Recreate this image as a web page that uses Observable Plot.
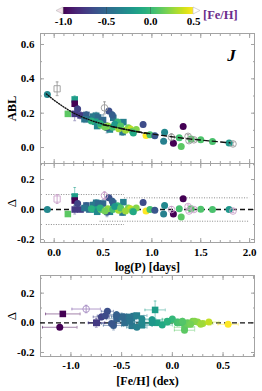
<!DOCTYPE html>
<html><head><meta charset="utf-8">
<script src="https://cdn.jsdelivr.net/npm/d3@7"></script>
<script src="https://cdn.jsdelivr.net/npm/@observablehq/plot@0.6"></script>
<style>
body{margin:0;background:#fff;}
#chart{position:relative;width:262px;height:391px;overflow:hidden;font-family:"Liberation Serif","Times New Roman",serif;}
#chart > svg{position:absolute;left:0;}
#fehlab{position:absolute;left:203px;top:8px;color:#6b2d8c;font-weight:bold;font-size:12.5px;}
</style></head><body><div id="chart"><div id="fehlab">[Fe/H]</div></div>
<script>
// ---- data ----
const logP    = [-0.07,0.03,0.14,0.21,0.21,0.21,0.24,0.27,0.33,0.36,0.40,0.43,0.45,0.42,0.38,0.44,0.48,0.50,0.515,0.56,0.595,0.54,0.605,0.55,0.60,0.65,0.66,0.708,0.70,0.76,0.78,0.80,0.84,0.81,0.91,0.94,0.98,1.03,1.13,1.12,1.20,1.22,1.32,1.30,1.28,1.37,1.38,1.40,1.43,1.50,1.62,1.79,1.83,0.31,0.47,0.52,0.62,0.68,0.73,0.57];
const abl     = [0.309,0.342,0.196,0.280,0.255,0.196,0.225,0.187,0.190,0.165,0.180,0.185,0.175,0.150,0.155,0.125,0.130,0.160,0.231,0.212,0.190,0.115,0.173,0.125,0.118,0.148,0.110,0.148,0.090,0.115,0.108,0.095,0.105,0.085,0.134,0.070,0.075,0.068,0.089,0.037,0.060,0.025,0.122,0.006,0.057,0.065,0.040,0.050,0.045,0.045,0.035,0.027,0.021,0.165,0.140,0.120,0.135,0.125,0.100,0.105];
const ablErr  = [0.006,0.040,0.008,0.020,0.015,0.040,0.020,0.020,0.020,0.015,0.020,0.020,0.020,0.010,0.010,0.010,0.010,0.030,0.035,0.015,0.020,0.030,0.015,0.010,0.010,0.010,0.010,0.015,0.020,0.010,0.010,0.010,0.010,0.010,0.015,0.010,0.010,0.010,0.015,0.010,0.020,0.010,0.010,0.010,0.010,0.010,0.010,0.010,0.010,0.010,0.010,0.010,0.010,0.020,0.010,0.010,0.020,0.010,0.010,0.010];
const delta   = [0.000,0.070,-0.030,0.087,0.060,0.000,0.040,0.000,0.027,0.000,0.030,0.045,0.040,0.000,0.005,-0.015,0.000,0.040,0.093,0.078,0.055,-0.018,0.040,0.005,0.000,0.025,-0.005,0.049,-0.020,0.010,0.005,-0.010,0.010,-0.015,0.047,-0.010,0.000,-0.005,0.026,-0.030,0.000,-0.030,0.072,-0.050,0.005,0.020,-0.010,0.005,0.000,0.002,0.000,0.000,-0.010,0.010,0.010,-0.010,0.020,0.010,-0.010,-0.015];
const deltaErr= [0.006,0.030,0.015,0.060,0.015,0.030,0.020,0.015,0.020,0.015,0.020,0.020,0.020,0.010,0.010,0.010,0.010,0.025,0.025,0.015,0.020,0.030,0.015,0.010,0.010,0.010,0.010,0.015,0.020,0.010,0.010,0.010,0.010,0.010,0.015,0.010,0.010,0.010,0.015,0.010,0.020,0.010,0.010,0.010,0.010,0.010,0.010,0.010,0.010,0.010,0.010,0.010,0.010,0.020,0.010,0.010,0.020,0.010,0.010,0.010];
const feh     = [-0.30,null,0.12,-0.17,-1.08,-0.75,-0.70,-0.745,-0.55,-0.47,-0.40,-0.38,-0.48,-0.15,-0.05,-0.30,0.15,-0.50,-0.85,-0.64,-0.55,-0.58,-0.42,0.25,0.05,0.00,0.30,-0.35,-0.40,0.20,0.36,0.15,0.22,-0.10,-0.66,0.55,0.05,-0.60,-0.30,-0.35,null,-1.11,-1.00,0.12,0.05,null,null,0.10,null,0.08,0.07,-0.20,null,-0.42,-0.05,0.18,-0.20,0.10,0.28,-0.30];
const fehErr  = [0.10,null,0.10,0.10,0.17,0.08,0.08,0.08,0.10,0.10,0.10,0.10,0.10,0.10,0.10,0.10,0.10,0.10,0.14,0.06,0.10,0.10,0.10,0.10,0.10,0.10,0.10,0.10,0.10,0.10,0.10,0.10,0.10,0.10,0.08,0.10,0.10,0.10,0.10,0.10,null,0.17,null,0.10,0.10,null,null,0.10,null,0.10,0.10,0.10,null,0.10,0.10,0.10,0.10,0.10,0.10,0.10];
const shape   = ["c","s","s","s","s","s","c","s","s","s","s","s","s","s","c","s","c","s","c","c","c","c","s","c","c","c","c","s","s","c","c","c","c","c","c","c","c","c","c","c","c","c","c","c","c","c","c","c","c","c","c","c","c","s","c","c","c","c","c","s"];
const hollow  = [0,1,0,0,0,0,0,0,0,0,0,0,0,0,0,0,0,0,1,0,0,0,0,0,0,0,0,0,0,0,0,0,0,0,0,0,0,0,0,0,1,0,0,0,0,1,1,0,1,0,0,0,1,0,0,0,0,0,0,0];

// relation curves
const dotCurveP  = [-0.08,0.0,0.1,0.2,0.3,0.4,0.5,0.6,0.7,0.8,0.9,0.96];
const dotCurveA  = [0.312,0.275,0.235,0.200,0.174,0.153,0.136,0.122,0.109,0.097,0.086,0.080];
const dashCurveP = [0.5,0.6,0.8,1.0,1.2,1.4,1.6,1.8];
const dashCurveA = [0.132,0.120,0.098,0.079,0.063,0.049,0.038,0.027];

// scatter limits (middle panel)
const limX1 = [-0.08,0.72,-0.08,0.47];
const limX2 = [0.72,2.0,0.72,2.0];
const limY  = [0.10,0.078,-0.10,-0.078];

// ticks
const pTicks = [0,0.5,1,1.5,2];
const fehTicks = [-1,-0.5,0,0.5];
const ablTicks = [0,0.2,0.4,0.6];
const dTicks = [-0.2,0,0.2];
const cbTicks = [-1,-0.5,0,0.5];

// ---- build ----
const rows = logP.map((p,i)=>({logP:p, abl:abl[i], eAbl:ablErr[i], delta:delta[i], eDelta:deltaErr[i],
  feh:feh[i], eFeh:fehErr[i], sym:shape[i], open:hollow[i]===1}));
const curveDot = dotCurveP.map((p,i)=>({p, a:dotCurveA[i]}));
const curveDash = dashCurveP.map((p,i)=>({p, a:dashCurveA[i]}));
const limits = limY.map((y,i)=>({y, x1:limX1[i], x2:limX2[i]}));

const font = '"Liberation Serif","Times New Roman",serif';
const frameGray = "#a3a3a3";
const fmt = d => d.toFixed(1);
const colorScale = {type:"linear", scheme:"viridis", domain:[-1,0.5], clamp:true};
const hcap = {draw(ctx, size){const w=Math.sqrt(size/Math.PI); ctx.moveTo(-w,0); ctx.lineTo(w,0);}};
const vcap = {draw(ctx, size){const w=Math.sqrt(size/Math.PI); ctx.moveTo(0,-w); ctx.lineTo(0,w);}};
const range = (a,b,s)=>d3.range(Math.round((b-a)/s)+1).map(i=>+(a+i*s).toFixed(4));

function boxMarks(xMaj, xMin, yMaj, yMin){
  const none = () => "";
  return [
    Plot.frame({stroke: frameGray}),
    Plot.axisX({anchor:"bottom", ticks:xMaj, tickSize:4, dy:-4, tickFormat:none, stroke:frameGray, label:null}),
    Plot.axisX({anchor:"top", ticks:xMaj, tickSize:4, dy:4, tickFormat:none, stroke:frameGray, label:null}),
    Plot.axisX({anchor:"bottom", ticks:xMin, tickSize:2, dy:-2, tickFormat:none, stroke:frameGray, label:null}),
    Plot.axisX({anchor:"top", ticks:xMin, tickSize:2, dy:2, tickFormat:none, stroke:frameGray, label:null}),
    Plot.axisY({anchor:"left", ticks:yMaj, tickSize:4, dx:4, tickFormat:none, stroke:frameGray, label:null}),
    Plot.axisY({anchor:"right", ticks:yMaj, tickSize:4, dx:-4, tickFormat:none, stroke:frameGray, label:null}),
    Plot.axisY({anchor:"left", ticks:yMin, tickSize:2, dx:2, tickFormat:none, stroke:frameGray, label:null}),
    Plot.axisY({anchor:"right", ticks:yMin, tickSize:2, dx:-2, tickFormat:none, stroke:frameGray, label:null}),
    Plot.axisY({anchor:"left", ticks:yMaj, tickSize:0, tickPadding:6, tickFormat:fmt, label:null})
  ];
}

function pointMarks(data, xk, yk, eyk, exk, openStroke){
  const fil = data.filter(d=>!d.open), hol = data.filter(d=>d.open);
  const m = [];
  const y1 = d=>d[yk]-d[eyk], y2 = d=>d[yk]+d[eyk];
  if (exk) {
    const x1 = d=>d[xk]-d[exk], x2 = d=>d[xk]+d[exk];
    m.push(Plot.ruleY(fil, {y:yk, x1, x2, stroke:"feh", strokeOpacity:0.55, strokeWidth:0.9}));
    m.push(Plot.dot(fil, {x:x1, y:yk, symbol:vcap, r:1.4, stroke:"feh", strokeOpacity:0.55, strokeWidth:0.9}));
    m.push(Plot.dot(fil, {x:x2, y:yk, symbol:vcap, r:1.4, stroke:"feh", strokeOpacity:0.55, strokeWidth:0.9}));
    m.push(Plot.ruleY(hol, {y:yk, x1, x2, stroke:openStroke, strokeWidth:0.9}));
    m.push(Plot.dot(hol, {x:x1, y:yk, symbol:vcap, r:1.4, stroke:openStroke, strokeWidth:0.9}));
    m.push(Plot.dot(hol, {x:x2, y:yk, symbol:vcap, r:1.4, stroke:openStroke, strokeWidth:0.9}));
  }
  m.push(Plot.ruleX(fil, {x:xk, y1, y2, stroke:"feh", strokeOpacity:0.55, strokeWidth:0.9}));
  m.push(Plot.dot(fil, {x:xk, y:y1, symbol:hcap, r:1.4, stroke:"feh", strokeOpacity:0.55, strokeWidth:0.9}));
  m.push(Plot.dot(fil, {x:xk, y:y2, symbol:hcap, r:1.4, stroke:"feh", strokeOpacity:0.55, strokeWidth:0.9}));
  m.push(Plot.ruleX(hol, {x:xk, y1, y2, stroke:openStroke, strokeWidth:0.9}));
  m.push(Plot.dot(hol, {x:xk, y:y1, symbol:hcap, r:1.4, stroke:openStroke, strokeWidth:0.9}));
  m.push(Plot.dot(hol, {x:xk, y:y2, symbol:hcap, r:1.4, stroke:openStroke, strokeWidth:0.9}));
  m.push(Plot.dot(fil.filter(d=>d.sym==="s"), {x:xk, y:yk, symbol:"square", r:3.7, fill:"feh"}));
  m.push(Plot.dot(fil.filter(d=>d.sym==="c"), {x:xk, y:yk, symbol:"circle", r:3.5, fill:"feh"}));
  m.push(Plot.dot(hol.filter(d=>d.sym==="s"), {x:xk, y:yk, symbol:"square", r:3.5, fill:"none", stroke:openStroke, strokeWidth:0.9}));
  m.push(Plot.dot(hol.filter(d=>d.sym==="c"), {x:xk, y:yk, symbol:"circle", r:3.3, fill:"none", stroke:openStroke, strokeWidth:0.9}));
  return m;
}

const baseStyle = {fontFamily:font, fontSize:"11px", fontWeight:"bold", background:"transparent", overflow:"visible"};
const pDomain = [-0.14, 2.05];

// top panel
const p1 = Plot.plot({
  width:262, height:164, marginLeft:40, marginRight:8, marginTop:33, marginBottom:1,
  style: baseStyle,
  x:{domain:pDomain}, y:{domain:[-0.093,0.664]}, color:colorScale,
  marks:[
    ...boxMarks(pTicks, range(-0.1,2.0,0.1), ablTicks, range(-0.1,0.6,0.1)),
    ...pointMarks(rows, "logP", "abl", "eAbl", null, "#9a9a9a"),
    Plot.line(curveDot, {x:"p", y:"a", stroke:"#111", strokeWidth:1.4, strokeDasharray:"1,1.6"}),
    Plot.line(curveDash, {x:"p", y:"a", stroke:"#111", strokeWidth:1.4, strokeDasharray:"5,3.5"}),
    Plot.text(["J"], {text:d=>d, frameAnchor:"top-right", dx:-23, dy:22, fontSize:17, fontWeight:"bold", fontStyle:"italic", textAnchor:"middle", lineAnchor:"middle"}),
    Plot.text(["ABL"], {text:d=>d, frameAnchor:"left", dx:-29, dy:10, rotate:-90, fontSize:12.5, textAnchor:"middle", lineAnchor:"middle"})
  ]
});
p1.style.top = "0px";

// middle panel
const p2 = Plot.plot({
  width:262, height:112, marginLeft:40, marginRight:8, marginTop:1, marginBottom:32,
  style: baseStyle,
  x:{domain:pDomain}, y:{domain:[-0.22,0.307]}, color:colorScale,
  marks:[
    ...boxMarks(pTicks, range(-0.1,2.0,0.1), dTicks, range(-0.2,0.3,0.1)),
    Plot.ruleY(limits, {y:"y", x1:"x1", x2:"x2", stroke:"#8a8a8a", strokeWidth:1, strokeDasharray:"1,1.5"}),
    Plot.ruleY([0], {stroke:"#111", strokeWidth:1.3, strokeDasharray:"5,3"}),
    ...pointMarks(rows, "logP", "delta", "eDelta", null, "#c9a0c9"),
    Plot.axisX({anchor:"bottom", ticks:pTicks, tickSize:0, tickPadding:6, tickFormat:fmt, label:null}),
    Plot.text(["log(P) [days]"], {text:d=>d, frameAnchor:"bottom", dy:25, fontSize:12, lineAnchor:"middle"}),
    Plot.text(["Δ"], {text:d=>d, frameAnchor:"left", dx:-29, rotate:-90, fontSize:13, fontWeight:"normal", textAnchor:"middle", lineAnchor:"middle"})
  ]
});
p2.style.top = "162px";

// bottom panel
const p3 = Plot.plot({
  width:262, height:119, marginLeft:40, marginRight:8, marginTop:3, marginBottom:35,
  style: baseStyle,
  x:{domain:[-1.30,0.81]}, y:{domain:[-0.227,0.319]}, color:colorScale,
  marks:[
    ...boxMarks(fehTicks, range(-1.3,0.8,0.1), dTicks, range(-0.2,0.3,0.1)),
    Plot.ruleY([0], {stroke:"#111", strokeWidth:1.3, strokeDasharray:"5,3"}),
    ...pointMarks(rows.filter(d=>d.feh!=null && d.eFeh!=null), "feh", "delta", "eDelta", "eFeh", "#a88fc4"),
    Plot.axisX({anchor:"bottom", ticks:fehTicks, tickSize:0, tickPadding:5, tickFormat:fmt, label:null}),
    Plot.text(["[Fe/H] (dex)"], {text:d=>d, frameAnchor:"bottom", dy:25, fontSize:12, lineAnchor:"middle"}),
    Plot.text(["Δ"], {text:d=>d, frameAnchor:"left", dx:-29, rotate:-90, fontSize:13, fontWeight:"normal", textAnchor:"middle", lineAnchor:"middle"})
  ]
});
p3.style.top = "272px";

// colour bar
const cbLeft = 63, cbRight = 69, cbTop = 7, cbH = 30, cbBottom = 16;
const leg = Plot.legend({
  color: colorScale, width:262, height:cbH, marginLeft:cbLeft, marginRight:cbRight, marginTop:cbTop, marginBottom:cbBottom,
  tickSize:0, ticks:cbTicks, tickFormat:fmt, label:null,
  style:{fontFamily:font, fontSize:"11px", fontWeight:"bold", background:"transparent", overflow:"visible"}
});
leg.style.top = "0px";
leg.style.position = "absolute";
d3.select(leg).selectAll(".tick line").attr("stroke", "#333").attr("stroke-opacity", 0.35);
d3.select(leg).selectAll("text").attr("font-family", font).attr("font-weight", "bold").attr("font-size", 11);
{
  const g = d3.select(leg);
  const y0 = cbTop, y1 = cbH - cbBottom, ym = (y0+y1)/2, xl = cbLeft, xr = 262 - cbRight;
  g.append("path").attr("d", `M${xl},${y0}L${xl-7},${ym}L${xl},${y1}Z`).attr("fill", "#f6e3ea").attr("stroke", "#bbb").attr("stroke-width", 0.6);
  g.append("path").attr("d", `M${xr},${y0}L${xr+7},${ym}L${xr},${y1}Z`).attr("fill", "#fff").attr("stroke", "#bbb").attr("stroke-width", 0.6);
}

const chart = document.getElementById("chart");
chart.append(leg, p1, p2, p3);
</script>
</body></html>
